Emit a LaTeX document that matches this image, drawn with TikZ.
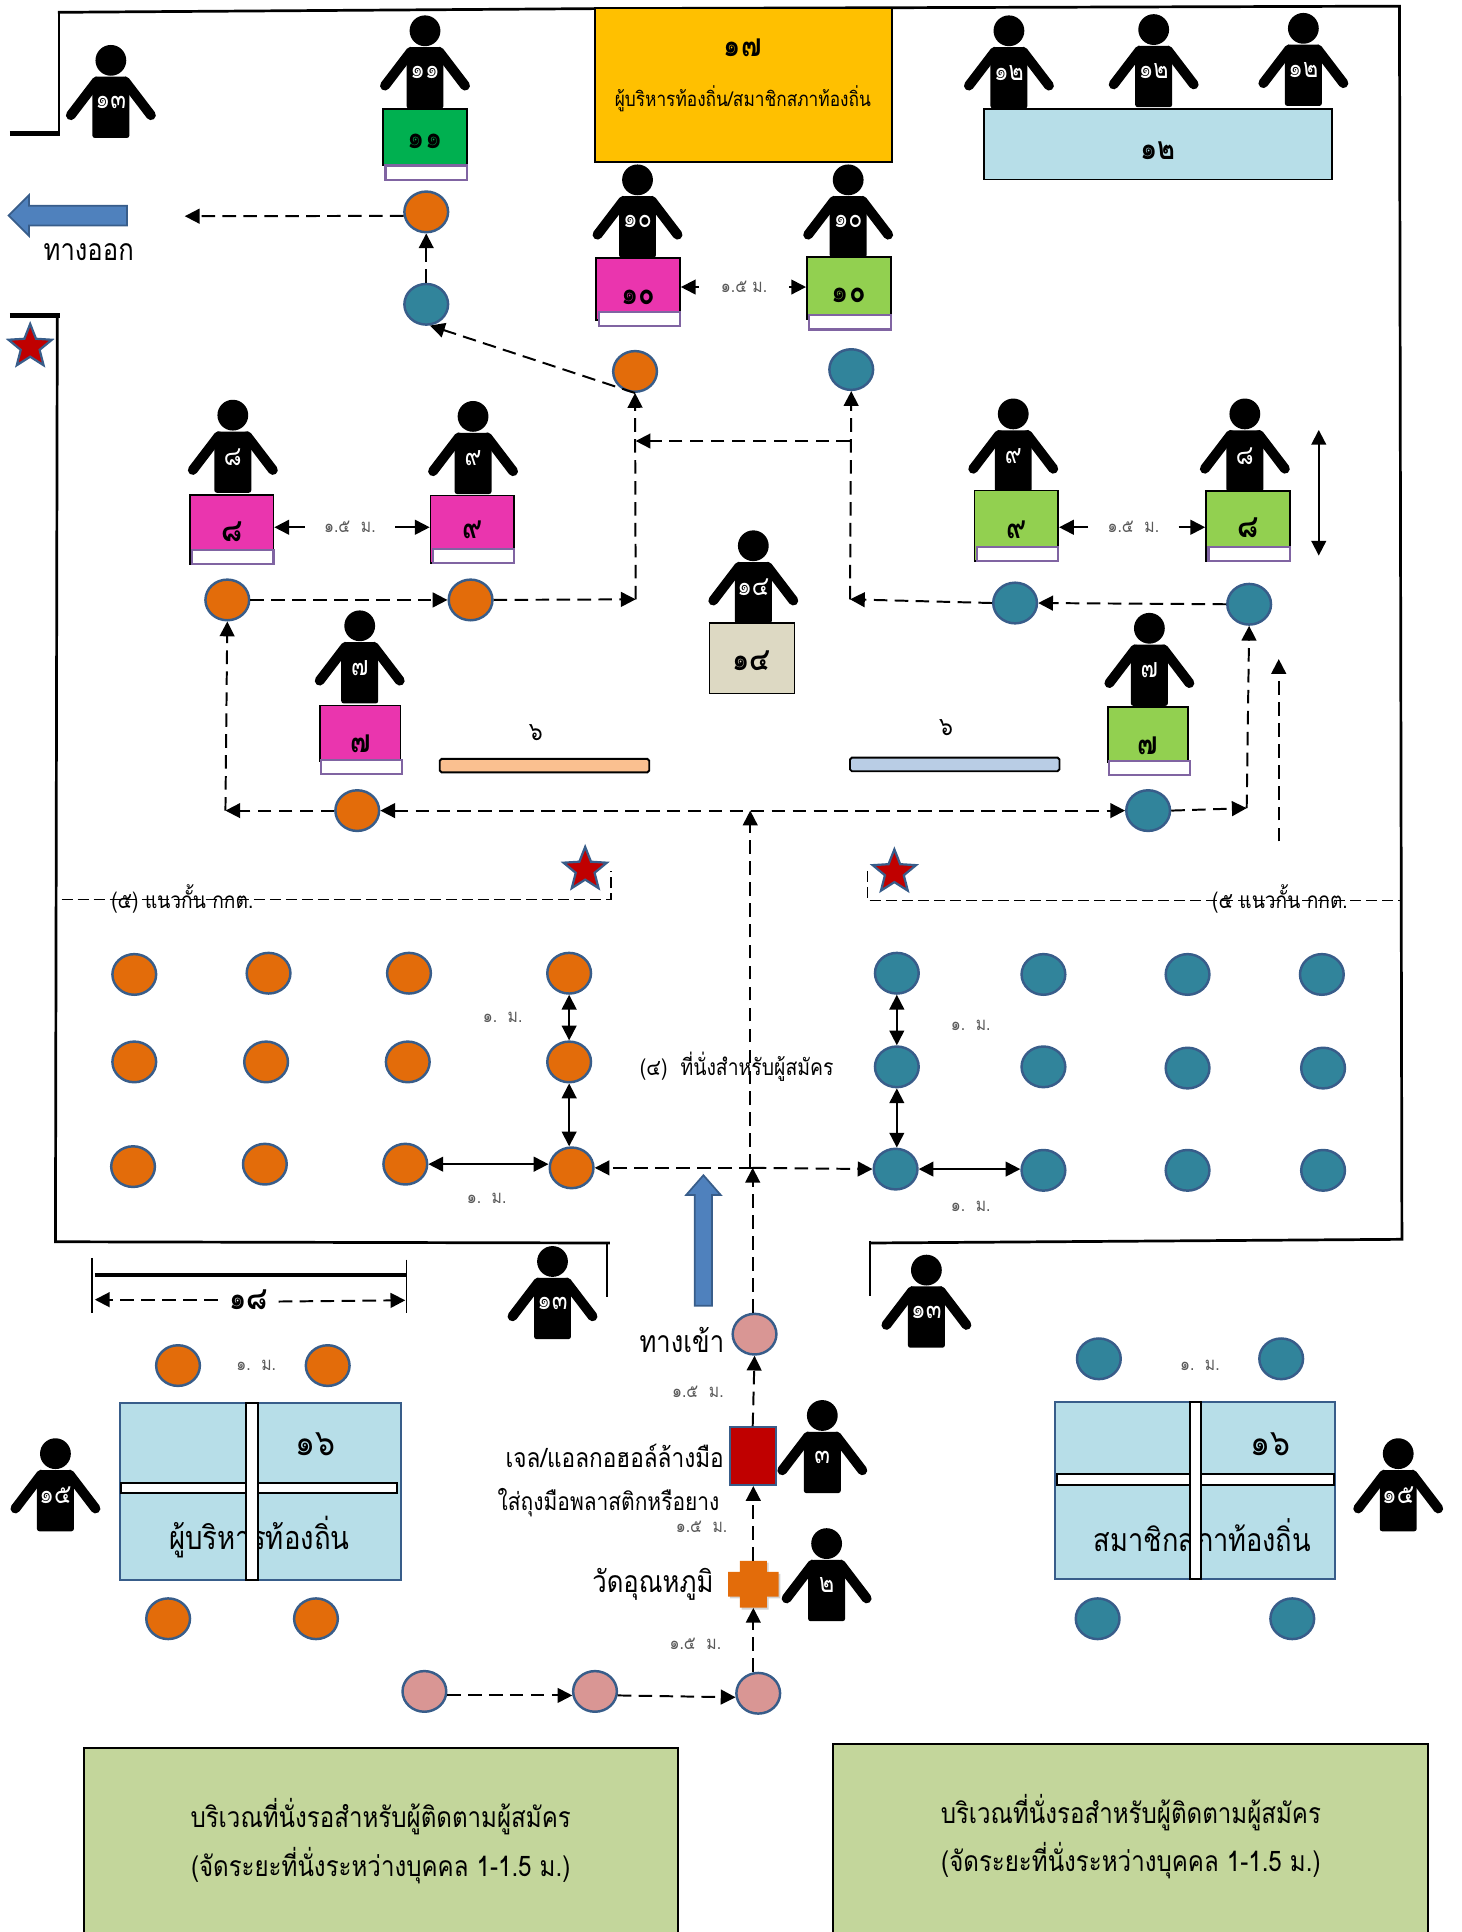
\documentclass[tikz,border=0pt]{standalone}
\usepackage{fontspec}
\setmainfont[Script=Thai,FakeStretch=0.85]{Loma}
\usepackage{xcolor}
\usepackage{tikz}
\usetikzlibrary{arrows.meta,shapes.geometric,shadows}
\definecolor{rim}{HTML}{385D8A}
\definecolor{seatorange}{HTML}{E36C0A}
\definecolor{seatteal}{HTML}{31849B}
\definecolor{seatpink}{HTML}{D99694}
\definecolor{deskpink}{HTML}{EA35AE}
\definecolor{deskgreen}{HTML}{92D050}
\definecolor{deskdark}{HTML}{00B050}
\definecolor{paleblue}{HTML}{B7DEE8}
\definecolor{sand}{HTML}{DDD9C3}
\definecolor{sage}{HTML}{C3D69B}
\definecolor{amber}{HTML}{FFC000}
\definecolor{arrowblue}{HTML}{4F81BD}
\definecolor{strip}{HTML}{8064A2}
\definecolor{redbox}{HTML}{C00000}
\definecolor{barorange}{HTML}{FAC090}
\definecolor{barblue}{HTML}{B9CDE5}
\tikzset{
  seat/.style={ellipse, draw=rim, line width=2pt, minimum width=35.5pt, minimum height=33pt, inner sep=0pt},
  sorange/.style={seat, fill=seatorange},
  steal/.style={seat, fill=seatteal},
  spink/.style={seat, fill=seatpink},
  personhead/.style={circle, fill=black, minimum size=25pt, inner sep=0pt},
  personarm/.style={line width=8pt, line cap=round},
  personnum/.style={text=white, font=\fontsize{22}{22}\selectfont, inner sep=0pt},
  deskbox/.style={draw=black, line width=1.4pt, minimum width=68pt, inner sep=0pt},
  deskstrip/.style={draw=strip, fill=white, line width=1.8pt, minimum width=66pt, minimum height=11.5pt, inner sep=0pt},
  desknum/.style={font=\fontsize{26}{26}\selectfont\bfseries, inner sep=0pt},
  flow/.style={-{Triangle[length=12pt,width=12pt]}, line width=1.6pt, dash pattern=on 11pt off 6pt},
  flowboth/.style={{Triangle[length=12pt,width=12pt]}-{Triangle[length=12pt,width=12pt]}, line width=1.6pt, dash pattern=on 11pt off 6pt},
  gauge/.style={-{Triangle[length=12pt,width=12pt]}, line width=1.5pt},
  gaugeboth/.style={{Triangle[length=12pt,width=12pt]}-{Triangle[length=12pt,width=12pt]}, line width=1.5pt},
  gap/.style={text=black!65, font=\fontsize{15}{16}\selectfont, inner sep=0pt},
  big/.style={font=\fontsize{24.5}{26}\selectfont, inner sep=0pt},
  wall/.style={line width=2.2pt},
  rope/.style={line width=1.2pt, dash pattern=on 9pt off 4pt},
  table/.style={draw=rim, fill=paleblue, line width=1.6pt, minimum width=228pt, minimum height=144pt, inner sep=0pt},
  tablebar/.style={draw=black, fill=white, line width=1.6pt, inner sep=0pt},
  waitbox/.style={draw=black, fill=sage, line width=1.6pt, inner sep=0pt},
  redstar/.style={star, star points=5, star point ratio=2.3, fill=redbox, draw=rim, line width=1.8pt, minimum size=37pt, inner sep=0pt},
  bluearrow/.style={fill=arrowblue, draw=rim, line width=1.4pt}
}
\newcommand{\Person}[4]{%
  % #1 = name, #2 = x, #3 = y of the head, #4 = label
  \begin{scope}[shift={(#2,#3)}]
    \node[personhead] (#1) at (0,0) {};
    \fill[rounded corners=2pt] (-12.5,13.3) -- (12.5,13.3) -- (15,21) -- (15,63) -- (-15,63) -- (-15,21) -- cycle;
    \draw[personarm] (-11.5,17) -- (-32.5,44.5);
    \draw[personarm] (11.5,17) -- (32.5,44.5);
    \node[personnum] (#1-n) at (0,34) {#4};
  \end{scope}
}
\newcommand{\Desk}[8]{%
  % #1 = name, #2 = options, #3 = x centre, #4 = top, #5 = height
  % #6 = top of the strip, #7 = y of the label, #8 = label
  \node[deskbox, #2, minimum height=#5pt, anchor=north] (#1) at (#3,#4) {};
  \node[deskstrip, anchor=north] (#1-s) at (#3+1,#6) {};
  \node[desknum] (#1-n) at (#3,#7) {#8};
}
\begin{document}
\begin{tikzpicture}[x=1pt,y=-1pt]
  \useasboundingbox (0,0) rectangle (1186,1568.3);

  % walls
  \draw[wall] (47,10) -- (483,7) -- (1136,5) -- (1138,1006) -- (706,1009);
  \draw[line width=1.4pt] (706,1007) -- (706,1052);
  \draw[wall] (48,10) -- (48,108);
  \draw[line width=4pt] (8,108) -- (49,108);
  \draw[line width=4pt] (8,256) -- (49,256);
  \draw[wall] (46.5,256) -- (45,1008) -- (495,1009);
  \draw[line width=1.4pt] (493,1009) -- (493,1053);

  % head table
  \node[draw=black, fill=amber, line width=1.6pt, minimum width=241pt, minimum height=125pt, inner sep=0pt] (head) at (603.5,69) {};
  \node[desknum] (head-n) at (603,39) {๑๗};
  \node[font=\fontsize{16.5}{17}\selectfont, inner sep=0pt] (head-t) at (603,80) {ผู้บริหารท้องถิ่น/สมาชิกสภาท้องถิ่น};

  % people
  \Person{p13a}{90}{49}{๑๓}
  \Person{p11}{345}{25}{๑๑}
  \Person{p12a}{819}{25}{๑๒}
  \Person{p12b}{936.5}{24}{๑๒}
  \Person{p12c}{1058}{23}{๑๒}
  \Person{p10a}{517.5}{146}{๑๐}
  \Person{p10b}{688.5}{146}{๑๐}
  \Person{p8a}{189}{337}{๘}
  \Person{p9a}{384}{338}{๙}
  \Person{p9b}{822.5}{336}{๙}
  \Person{p8b}{1010.5}{336}{๘}
  \Person{p14}{611.5}{443}{๑๔}
  \Person{p7a}{292}{508}{๗}
  \Person{p7b}{933}{510}{๗}
  \Person{p13b}{448.5}{1024}{๑๓}
  \Person{p13c}{752}{1031}{๑๓}
  \Person{p3}{667.5}{1149}{๓}
  \Person{p2}{671}{1253}{๒}
  \Person{p15a}{45}{1180}{๑๕}
  \Person{p15b}{1135}{1180}{๑๕}

  % desks
  \Desk{d11}{fill=deskdark}{345}{88}{45}{133.5}{115}{๑๑}
  \Desk{d10a}{fill=deskpink}{518}{209}{50}{252.5}{241}{๑๐}
  \Desk{d10b}{fill=deskgreen}{689}{208}{50}{255}{240}{๑๐}
  \Desk{d8a}{fill=deskpink}{188}{401}{56}{445.5}{432}{๘}
  \Desk{d9a}{fill=deskpink}{383.5}{401.5}{55}{444.5}{430}{๙}
  \Desk{d9b}{fill=deskgreen}{825}{397.5}{57}{443}{430}{๙}
  \Desk{d8b}{fill=deskgreen}{1013}{398}{57}{443}{428}{๘}
  \Desk{d7a}{fill=deskpink, minimum width=65pt}{292.5}{572}{45}{616}{604}{๗}
  \Desk{d7b}{fill=deskgreen, minimum width=65pt}{932}{573}{45}{617}{605}{๗}
  \node[deskbox, fill=paleblue, minimum width=282pt, minimum height=57.5pt] (d12) at (940,117) {};
  \node[desknum] (d12-n) at (940,122) {๑๒};
  \node[deskbox, fill=sand, minimum width=69pt, minimum height=57pt] (d14) at (610.5,534.5) {};
  \node[desknum] (d14-n) at (610,536) {๑๔};

  % bars
  \node[draw=black, fill=barorange, line width=1.5pt, rounded corners=1.5pt, minimum width=170pt, minimum height=11pt, inner sep=0pt] (bar6a) at (442,621.5) {};
  \node[draw=black, fill=barblue, line width=1.5pt, rounded corners=1.5pt, minimum width=170pt, minimum height=11pt, inner sep=0pt] (bar6b) at (775,620.5) {};
  \node[font=\fontsize{21}{21}\selectfont, inner sep=0pt] (bar6a-n) at (435,595) {๖};
  \node[font=\fontsize{21}{21}\selectfont, inner sep=0pt] (bar6b-n) at (768,591) {๖};

  % seats on the route
  \node[sorange] (o11) at (346,172) {};
  \node[steal] (t11) at (346,247) {};
  \node[sorange] (o10) at (515.5,301.5) {};
  \node[steal] (t10) at (691,300) {};
  \node[sorange] (o8) at (184.5,487) {};
  \node[sorange] (o9) at (382,487) {};
  \node[steal] (t9) at (824,489.5) {};
  \node[steal] (t8) at (1014,490.5) {};
  \node[sorange] (o7) at (290,658) {};
  \node[steal] (t7) at (932,658) {};

  % seats of the candidates
  \foreach \n/\x/\y in {11/109/791,12/218/790,13/332/790,14/462/790,21/109/862,22/216/862,23/331/862,24/462/862,31/108/947,32/215/945,33/329/945,34/464/948}
    \node[sorange] (L\n) at (\x,\y) {};
  \foreach \n/\x/\y in {11/728/790,12/847/791,13/964/791,14/1073/791,21/728/866,22/847/866,23/964/867,24/1074/867,31/727/949,32/847/950,33/964/950,34/1074/950}
    \node[steal] (R\n) at (\x,\y) {};

  % route
  \coordinate (exitEnd) at (150,175.5);
  \coordinate (jL) at (516,486.5);
  \coordinate (jM) at (516,358);
  \coordinate (jR) at (690,358);
  \coordinate (jRb) at (690,486.5);
  \coordinate (cA) at (183,658);
  \coordinate (cB) at (1012,656);
  \coordinate (cC) at (609,948);
  \coordinate (cD) at (609,658);
  \coordinate (cE) at (611,948);
  \coordinate (freeA) at (1038,683);
  \coordinate (freeB) at (1038,535);
  \draw[flow] (o11.190) -- (exitEnd);
  \draw[flow] (t11.north) -- (o11.south);
  \draw[flow] (o10.south) -- (t11.280);
  \draw[flow] (jL) -- (o10.south);
  \draw[flow] (jRb) -- (t10.south);
  \draw[flow] (jR) -- (jM);
  \draw[flow] (o8.east) -- (o9.west);
  \draw[flow] (o9.east) -- (jL);
  \draw[flow] (t8.west) -- (t9.east);
  \draw[flow] (t9.west) -- (jRb);
  \draw[flow] (o7.west) -- (cA);
  \draw[flow] (cA) -- (o8.south);
  \draw[flowboth] (o7.east) -- (t7.west);
  \draw[flow] (t7.east) -- (cB);
  \draw[flow] (cB) -- (t8.south);
  \draw[flow] (freeA) -- (freeB);
  \draw[flow] (cC) -- (cD);
  \draw[flow] (cE) -- (L34.east);
  \draw[flow] (cE) -- (R31.west);

  % gaps
  \node[gap, minimum width=73pt] (g10) at (604,233) {๑.๕ ม.};
  \node[gap, minimum width=73pt] (g8) at (284,428) {๑.๕\ \ ม.};
  \node[gap, minimum width=73pt] (g9) at (920,428) {๑.๕\ \ ม.};
  \draw[gauge] (g10.west) -- (d10a.east |- g10.west);
  \draw[gauge] (g10.east) -- (d10b.west |- g10.east);
  \draw[gauge] (g8.west) -- (d8a.east |- g8.west);
  \draw[gauge] (g8.east) -- (d9a.west |- g8.east);
  \draw[gauge] (g9.west) -- (d9b.east |- g9.west);
  \draw[gauge] (g9.east) -- (d8b.west |- g9.east);
  \coordinate (hA) at (1070.5,349);
  \coordinate (hB) at (1070.5,451);
  \draw[gaugeboth] (hA) -- (hB);
  \draw[gaugeboth] (L14.south) -- (L24.north);
  \draw[gaugeboth] (L24.south) -- (L24.south |- L34.north);
  \draw[gaugeboth] (L33.east) -- (L34.west |- L33.east);
  \draw[gaugeboth] (R11.south) -- (R21.north);
  \draw[gaugeboth] (R21.south) -- (R21.south |- R31.north);
  \draw[gaugeboth] (R31.east) -- (R32.west |- R31.east);
  \node[gap] (g1a) at (408,826) {๑.\ \ ม.};
  \node[gap] (g1b) at (788,832) {๑.\ \ ม.};
  \node[gap] (g1c) at (395,973) {๑.\ \ ม.};
  \node[gap] (g1d) at (788,979) {๑.\ \ ม.};

  % barriers
  \draw[rope] (50,730) -- (496,730) -- (496,707);
  \draw[rope] (704,707) -- (704,731) -- (1138,731);
  \node[redstar] (s1) at (24.5,281.5) {};
  \node[redstar] (s2) at (475,706) {};
  \node[redstar] (s3) at (726,708) {};
  \node[gap, text=black, font=\fontsize{18.3}{19}\selectfont] (lineL) at (148,730) {(๕) แนวกั้น กกต.};
  \node[gap, text=black, font=\fontsize{18.3}{19}\selectfont] (lineR) at (1039,730) {(๕ แนวกั้น กกต.};
  \node[gap, text=black, font=\fontsize{18.5}{19}\selectfont] (zone) at (598,866) {(๔)\ \ ที่นั่งสำหรับผู้สมัคร};

  % way in and way out
  \draw[bluearrow] (7,175) -- (23.5,158.5) -- (23.5,167) -- (103,167) -- (103,183) -- (23.5,183) -- (23.5,191.5) -- cycle;
  \node[big] (wayout) at (72,204.5) {ทางออก};
  \draw[bluearrow] (571,954) -- (585,970) -- (578,970) -- (578,1060) -- (564,1060) -- (564,970) -- (557,970) -- cycle;
  \node[big] (wayin) at (553.5,1088) {ทางเข้า};

  % dimension of the table
  \draw[line width=3pt] (77,1035) -- (330,1035);
  \draw[line width=1.2pt] (74.5,1021) -- (74.5,1065.5);
  \draw[line width=1.2pt] (330,1022.5) -- (330,1066);
  \node[desknum] (d18) at (201.5,1055) {๑๘};
  \coordinate (dimA) at (77,1055);
  \coordinate (dimB) at (329,1055.5);
  \draw[flow] (d18.west) ++(-9,0) -- (dimA);
  \draw[flow] (d18.east) ++(9,1.5) -- (dimB);

  % tables at the gate
  \node[table] (tabA) at (211.5,1210.5) {};
  \node[table] (tabB) at (970,1210) {};
  \node[font=\fontsize{30}{30}\selectfont, inner sep=0pt] (tabA-n) at (256,1172) {๑๖};
  \node[font=\fontsize{30}{30}\selectfont, inner sep=0pt] (tabB-n) at (1031,1172) {๑๖};
  \node[font=\fontsize{26.3}{27}\selectfont, inner sep=0pt] (tabA-t) at (210.5,1248) {ผู้บริหารท้องถิ่น};
  \node[font=\fontsize{26}{27}\selectfont, inner sep=0pt] (tabB-t) at (976,1246.5) {สมาชิกสภาท้องถิ่น};
  \node[tablebar, minimum width=224pt, minimum height=8.5pt] (tabA-h) at (210,1208) {};
  \node[tablebar, minimum width=9.5pt, minimum height=144pt] (tabA-v) at (204.5,1210.5) {};
  \node[tablebar, minimum width=225pt, minimum height=8.5pt] (tabB-h) at (970.5,1201) {};
  \node[tablebar, minimum width=9pt, minimum height=144pt] (tabB-v) at (970.5,1210) {};

  \node[sorange] (wa) at (144.5,1108.5) {};
  \node[sorange] (wb) at (266,1108.5) {};
  \node[sorange] (wc) at (136.5,1314) {};
  \node[sorange] (wd) at (256.5,1314) {};
  \node[steal] (xa) at (892,1103) {};
  \node[steal] (xb) at (1040,1103) {};
  \node[steal] (xc) at (891,1314) {};
  \node[steal] (xd) at (1049,1314) {};
  \node[gap] (g1e) at (208,1108) {๑.\ \ ม.};
  \node[gap] (g1f) at (974,1108) {๑.\ \ ม.};

  % screening line
  \node[spink] (pa) at (344.5,1373) {};
  \node[spink] (pb) at (483,1373) {};
  \node[spink] (pc) at (615.5,1374.5) {};
  \node[spink] (pd) at (612.5,1083) {};
  \node[draw=rim, fill=redbox, line width=1.6pt, minimum width=37.5pt, minimum height=47pt, inner sep=0pt] (red) at (611,1182) {};
  \node[minimum width=41pt, minimum height=38pt, inner sep=0pt] (cross) at (611.5,1286) {};
  \fill[seatorange, drop shadow={opacity=.35,shadow xshift=1.5pt,shadow yshift=-1.5pt}] (600.5,1267) -- (622.5,1267) -- (622.5,1276) -- (632,1276) -- (632,1296) -- (622.5,1296) -- (622.5,1305) -- (600.5,1305) -- (600.5,1296) -- (591,1296) -- (591,1276) -- (600.5,1276) -- cycle;
  \draw[flow] (pa.-10) -- (pb.190);
  \draw[flow] (pb.-10) -- (pc.190);
  \draw[flow] (pc.north -| cross.south) -- (cross.south);
  \draw[flow] (cross.north) -- (red.south -| cross.north);
  \draw[flow] (red.north) -- (pd.south);
  \draw[flow] (pd.north -| cE) -- (cE);
  \node[gap] (g15a) at (566.5,1130) {๑.๕\ \ ม.};
  \node[gap] (g15b) at (569.5,1239) {๑.๕\ \ ม.};
  \node[gap] (g15c) at (564.5,1334) {๑.๕\ \ ม.};
  \node[font=\fontsize{21.6}{22}\selectfont, inner sep=0pt] (gel) at (499,1182) {เจล/แอลกอฮอล์ล้างมือ};
  \node[font=\fontsize{20}{22}\selectfont, inner sep=0pt] (glove) at (494,1219.5) {ใส่ถุงมือพลาสติกหรือยาง};
  \node[big] (temp) at (530,1286) {วัดอุณหภูมิ};

  % waiting areas
  \node[waitbox, minimum width=482pt, minimum height=170pt, anchor=north west] (waitA) at (67.5,1418) {};
  \node[waitbox, minimum width=483pt, minimum height=170pt, anchor=north west] (waitB) at (675.5,1415) {};
  \node[font=\fontsize{23}{23}\selectfont, inner sep=0pt] (waitA-a) at (309,1475) {บริเวณที่นั่งรอสำหรับผู้ติดตามผู้สมัคร};
  \node[font=\fontsize{23}{23}\selectfont, inner sep=0pt] (waitA-b) at (309,1514.5) {(จัดระยะที่นั่งระหว่างบุคคล 1-1.5 ม.)};
  \node[font=\fontsize{23}{23}\selectfont, inner sep=0pt] (waitB-a) at (918,1471) {บริเวณที่นั่งรอสำหรับผู้ติดตามผู้สมัคร};
  \node[font=\fontsize{23}{23}\selectfont, inner sep=0pt] (waitB-b) at (918,1510.5) {(จัดระยะที่นั่งระหว่างบุคคล 1-1.5 ม.)};
\end{tikzpicture}
\end{document}
